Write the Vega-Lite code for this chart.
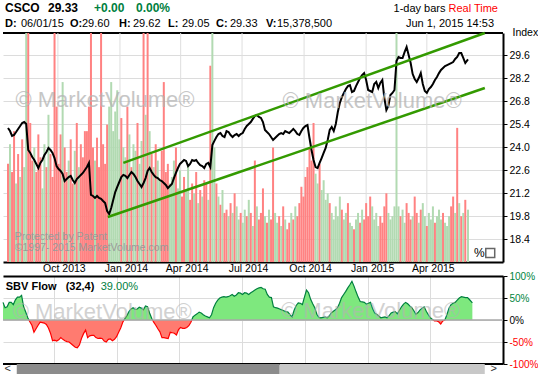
{
"$schema":"https://vega.github.io/schema/vega-lite/v6.json",
"padding":0,
"autosize":{"type":"pad"},
"background":"white",
"spacing":0,
"bounds":"flush",
"config":{"view":{"stroke":null},"font":"Liberation Sans","text":{"font":"Liberation Sans"},"axis":{"labelFont":"Liberation Sans","titleFont":"Liberation Sans","labelOverlap":false,"labelFlush":false,"labelBound":false}},
"resolve":{"scale":{"x":"independent","y":"independent","color":"independent"}},
"datasets":{"s":[
{"d":"2013-07-19","c":25.16,"v":60,"u":0,"f":40},
{"d":"2013-07-22","c":24.97,"v":72,"u":1,"f":28},
{"d":"2013-07-25","c":24.67,"v":55,"u":0,"f":30},
{"d":"2013-07-28","c":24.73,"v":80,"u":0,"f":40},
{"d":"2013-07-31","c":24.91,"v":48,"u":1,"f":40},
{"d":"2013-08-03","c":25.10,"v":66,"u":0,"f":35},
{"d":"2013-08-06","c":25.28,"v":52,"u":1,"f":46},
{"d":"2013-08-09","c":25.46,"v":75,"u":0,"f":52},
{"d":"2013-08-12","c":25.52,"v":58,"u":1,"f":52},
{"d":"2013-08-15","c":25.40,"v":160,"u":1,"f":56},
{"d":"2013-08-18","c":23.82,"v":150,"u":0,"f":30},
{"d":"2013-08-21","c":23.64,"v":85,"u":0,"f":18},
{"d":"2013-08-24","c":23.39,"v":62,"u":0,"f":5},
{"d":"2013-08-27","c":23.21,"v":70,"u":1,"f":-4},
{"d":"2013-08-30","c":22.97,"v":55,"u":0,"f":-12},
{"d":"2013-09-02","c":22.72,"v":78,"u":0,"f":-28},
{"d":"2013-09-05","c":23.03,"v":64,"u":0,"f":-20},
{"d":"2013-09-08","c":23.21,"v":45,"u":1,"f":-12},
{"d":"2013-09-11","c":23.51,"v":72,"u":1,"f":-5},
{"d":"2013-09-14","c":23.70,"v":58,"u":0,"f":-6},
{"d":"2013-09-17","c":23.94,"v":90,"u":1,"f":-7},
{"d":"2013-09-20","c":23.82,"v":66,"u":0,"f":-10},
{"d":"2013-09-23","c":23.64,"v":52,"u":0,"f":-18},
{"d":"2013-09-26","c":23.33,"v":160,"u":0,"f":-30},
{"d":"2013-09-29","c":22.84,"v":95,"u":0,"f":-47},
{"d":"2013-10-02","c":22.66,"v":60,"u":0,"f":-46},
{"d":"2013-10-05","c":22.54,"v":78,"u":0,"f":-48},
{"d":"2013-10-08","c":22.36,"v":110,"u":1,"f":-45},
{"d":"2013-10-11","c":21.93,"v":70,"u":0,"f":-40},
{"d":"2013-10-14","c":22.05,"v":55,"u":0,"f":-44},
{"d":"2013-10-17","c":22.17,"v":62,"u":1,"f":-47},
{"d":"2013-10-20","c":22.24,"v":75,"u":0,"f":-49},
{"d":"2013-10-23","c":21.99,"v":48,"u":0,"f":-50},
{"d":"2013-10-26","c":21.81,"v":68,"u":1,"f":-54},
{"d":"2013-10-29","c":22.05,"v":85,"u":0,"f":-58},
{"d":"2013-11-01","c":22.17,"v":58,"u":1,"f":-62},
{"d":"2013-11-04","c":22.30,"v":72,"u":0,"f":-63},
{"d":"2013-11-07","c":22.42,"v":64,"u":0,"f":-57},
{"d":"2013-11-10","c":22.60,"v":80,"u":0,"f":-42},
{"d":"2013-11-13","c":22.78,"v":80,"u":0,"f":-31},
{"d":"2013-11-16","c":23.03,"v":95,"u":0,"f":-23},
{"d":"2013-11-19","c":21.08,"v":160,"u":0,"f":-40},
{"d":"2013-11-22","c":21.02,"v":70,"u":0,"f":-36},
{"d":"2013-11-25","c":20.90,"v":62,"u":1,"f":-35},
{"d":"2013-11-28","c":21.02,"v":76,"u":0,"f":-35},
{"d":"2013-12-01","c":20.90,"v":58,"u":0,"f":-40},
{"d":"2013-12-04","c":20.84,"v":160,"u":0,"f":-42},
{"d":"2013-12-07","c":20.71,"v":72,"u":0,"f":-41},
{"d":"2013-12-10","c":20.59,"v":60,"u":0,"f":-42},
{"d":"2013-12-13","c":20.10,"v":84,"u":0,"f":-48},
{"d":"2013-12-16","c":19.92,"v":95,"u":1,"f":-50},
{"d":"2013-12-19","c":20.29,"v":110,"u":1,"f":-44},
{"d":"2013-12-22","c":20.77,"v":80,"u":1,"f":-43},
{"d":"2013-12-25","c":21.26,"v":92,"u":1,"f":-47},
{"d":"2013-12-28","c":21.57,"v":105,"u":1,"f":-44},
{"d":"2013-12-31","c":21.87,"v":75,"u":1,"f":-38},
{"d":"2014-01-03","c":22.17,"v":88,"u":0,"f":-28},
{"d":"2014-01-06","c":22.30,"v":70,"u":1,"f":-18},
{"d":"2014-01-09","c":22.24,"v":64,"u":1,"f":-5},
{"d":"2014-01-12","c":22.11,"v":95,"u":0,"f":3},
{"d":"2014-01-15","c":22.30,"v":78,"u":1,"f":10},
{"d":"2014-01-18","c":22.48,"v":58,"u":0,"f":19},
{"d":"2014-01-21","c":22.36,"v":72,"u":1,"f":25},
{"d":"2014-01-24","c":22.17,"v":68,"u":1,"f":28},
{"d":"2014-01-27","c":21.93,"v":85,"u":0,"f":24},
{"d":"2014-01-30","c":21.75,"v":60,"u":1,"f":25},
{"d":"2014-02-02","c":21.57,"v":74,"u":1,"f":29},
{"d":"2014-02-05","c":21.81,"v":160,"u":0,"f":27},
{"d":"2014-02-08","c":22.11,"v":90,"u":1,"f":23},
{"d":"2014-02-11","c":22.54,"v":160,"u":0,"f":32},
{"d":"2014-02-14","c":22.72,"v":80,"u":1,"f":30},
{"d":"2014-02-17","c":22.48,"v":66,"u":0,"f":16},
{"d":"2014-02-20","c":22.30,"v":58,"u":1,"f":4},
{"d":"2014-02-23","c":22.17,"v":72,"u":0,"f":-5},
{"d":"2014-02-26","c":22.11,"v":62,"u":1,"f":-12},
{"d":"2014-03-01","c":21.99,"v":50,"u":1,"f":-20},
{"d":"2014-03-04","c":21.93,"v":68,"u":0,"f":-27},
{"d":"2014-03-07","c":21.81,"v":110,"u":0,"f":-40},
{"d":"2014-03-10","c":21.69,"v":55,"u":0,"f":-40},
{"d":"2014-03-13","c":21.50,"v":60,"u":0,"f":-41},
{"d":"2014-03-16","c":21.63,"v":48,"u":1,"f":-42},
{"d":"2014-03-19","c":21.75,"v":52,"u":1,"f":-28},
{"d":"2014-03-22","c":22.11,"v":62,"u":1,"f":-29},
{"d":"2014-03-25","c":22.42,"v":70,"u":0,"f":-30},
{"d":"2014-03-28","c":22.72,"v":45,"u":1,"f":-34},
{"d":"2014-03-31","c":22.97,"v":56,"u":1,"f":-22},
{"d":"2014-04-03","c":23.09,"v":40,"u":0,"f":-17},
{"d":"2014-04-06","c":23.21,"v":52,"u":0,"f":-19},
{"d":"2014-04-09","c":23.15,"v":44,"u":1,"f":-19},
{"d":"2014-04-12","c":22.84,"v":60,"u":1,"f":-17},
{"d":"2014-04-15","c":22.97,"v":38,"u":0,"f":-13},
{"d":"2014-04-18","c":23.21,"v":48,"u":0,"f":-5},
{"d":"2014-04-21","c":23.15,"v":42,"u":1,"f":7},
{"d":"2014-04-24","c":23.21,"v":55,"u":0,"f":11},
{"d":"2014-04-27","c":23.03,"v":36,"u":1,"f":14},
{"d":"2014-04-30","c":22.90,"v":44,"u":0,"f":18},
{"d":"2014-05-03","c":22.84,"v":40,"u":1,"f":16},
{"d":"2014-05-06","c":22.72,"v":50,"u":0,"f":12},
{"d":"2014-05-09","c":22.97,"v":48,"u":0,"f":9},
{"d":"2014-05-12","c":23.03,"v":38,"u":1,"f":7},
{"d":"2014-05-15","c":22.78,"v":120,"u":0,"f":5},
{"d":"2014-05-18","c":24.12,"v":160,"u":1,"f":12},
{"d":"2014-05-21","c":24.37,"v":70,"u":1,"f":28},
{"d":"2014-05-24","c":24.61,"v":48,"u":0,"f":38},
{"d":"2014-05-27","c":24.79,"v":40,"u":1,"f":45},
{"d":"2014-05-30","c":24.85,"v":35,"u":0,"f":50},
{"d":"2014-06-02","c":24.67,"v":44,"u":1,"f":52},
{"d":"2014-06-05","c":24.61,"v":30,"u":0,"f":53},
{"d":"2014-06-08","c":24.97,"v":32,"u":0,"f":52},
{"d":"2014-06-11","c":24.91,"v":28,"u":1,"f":53},
{"d":"2014-06-14","c":24.73,"v":36,"u":0,"f":55},
{"d":"2014-06-17","c":24.61,"v":30,"u":1,"f":58},
{"d":"2014-06-20","c":24.73,"v":42,"u":0,"f":54},
{"d":"2014-06-23","c":24.79,"v":34,"u":1,"f":57},
{"d":"2014-06-26","c":24.67,"v":26,"u":1,"f":62},
{"d":"2014-06-29","c":24.79,"v":30,"u":0,"f":61},
{"d":"2014-07-02","c":24.85,"v":24,"u":1,"f":58},
{"d":"2014-07-05","c":25.10,"v":32,"u":1,"f":62},
{"d":"2014-07-08","c":25.28,"v":28,"u":0,"f":61},
{"d":"2014-07-11","c":25.40,"v":38,"u":1,"f":58},
{"d":"2014-07-14","c":25.52,"v":30,"u":0,"f":62},
{"d":"2014-07-17","c":25.71,"v":22,"u":1,"f":65},
{"d":"2014-07-20","c":25.89,"v":62,"u":0,"f":68},
{"d":"2014-07-23","c":25.95,"v":34,"u":1,"f":71},
{"d":"2014-07-26","c":25.83,"v":26,"u":0,"f":73},
{"d":"2014-07-29","c":25.77,"v":30,"u":0,"f":74},
{"d":"2014-08-01","c":25.52,"v":45,"u":0,"f":71},
{"d":"2014-08-04","c":25.04,"v":28,"u":1,"f":70},
{"d":"2014-08-07","c":24.91,"v":24,"u":0,"f":58},
{"d":"2014-08-10","c":24.79,"v":32,"u":1,"f":52},
{"d":"2014-08-13","c":24.61,"v":26,"u":0,"f":51},
{"d":"2014-08-16","c":24.43,"v":70,"u":0,"f":30},
{"d":"2014-08-19","c":24.55,"v":30,"u":1,"f":28},
{"d":"2014-08-22","c":24.67,"v":24,"u":1,"f":27},
{"d":"2014-08-25","c":24.79,"v":28,"u":0,"f":25},
{"d":"2014-08-28","c":24.85,"v":22,"u":1,"f":23},
{"d":"2014-08-31","c":24.79,"v":34,"u":0,"f":21},
{"d":"2014-09-03","c":24.97,"v":26,"u":1,"f":19},
{"d":"2014-09-06","c":24.91,"v":20,"u":0,"f":18},
{"d":"2014-09-09","c":24.85,"v":24,"u":0,"f":12},
{"d":"2014-09-12","c":24.97,"v":30,"u":1,"f":7},
{"d":"2014-09-15","c":25.10,"v":26,"u":0,"f":22},
{"d":"2014-09-18","c":24.97,"v":34,"u":1,"f":33},
{"d":"2014-09-21","c":24.79,"v":28,"u":0,"f":39},
{"d":"2014-09-24","c":24.73,"v":36,"u":0,"f":38},
{"d":"2014-09-27","c":24.97,"v":46,"u":0,"f":35},
{"d":"2014-09-30","c":25.16,"v":40,"u":0,"f":52},
{"d":"2014-10-03","c":25.28,"v":52,"u":0,"f":68},
{"d":"2014-10-06","c":25.34,"v":58,"u":0,"f":62},
{"d":"2014-10-09","c":24.55,"v":70,"u":0,"f":47},
{"d":"2014-10-12","c":23.82,"v":62,"u":0,"f":37},
{"d":"2014-10-15","c":23.21,"v":85,"u":0,"f":28},
{"d":"2014-10-18","c":22.78,"v":54,"u":1,"f":13},
{"d":"2014-10-21","c":22.72,"v":48,"u":1,"f":6},
{"d":"2014-10-24","c":23.03,"v":60,"u":0,"f":5},
{"d":"2014-10-27","c":23.33,"v":44,"u":1,"f":6},
{"d":"2014-10-30","c":23.64,"v":50,"u":1,"f":7},
{"d":"2014-11-02","c":23.94,"v":38,"u":1,"f":5},
{"d":"2014-11-05","c":24.43,"v":42,"u":1,"f":9},
{"d":"2014-11-08","c":25.04,"v":36,"u":0,"f":16},
{"d":"2014-11-11","c":25.22,"v":30,"u":1,"f":20},
{"d":"2014-11-14","c":24.97,"v":26,"u":1,"f":23},
{"d":"2014-11-17","c":25.40,"v":34,"u":1,"f":28},
{"d":"2014-11-20","c":26.13,"v":28,"u":1,"f":38},
{"d":"2014-11-23","c":26.68,"v":40,"u":1,"f":51},
{"d":"2014-11-26","c":27.04,"v":32,"u":0,"f":58},
{"d":"2014-11-29","c":27.29,"v":26,"u":1,"f":65},
{"d":"2014-12-02","c":27.53,"v":30,"u":1,"f":73},
{"d":"2014-12-05","c":27.71,"v":36,"u":0,"f":80},
{"d":"2014-12-08","c":27.77,"v":24,"u":1,"f":88},
{"d":"2014-12-11","c":27.35,"v":22,"u":1,"f":77},
{"d":"2014-12-14","c":27.41,"v":20,"u":0,"f":64},
{"d":"2014-12-17","c":27.71,"v":26,"u":1,"f":52},
{"d":"2014-12-20","c":27.96,"v":30,"u":1,"f":42},
{"d":"2014-12-23","c":28.20,"v":24,"u":0,"f":41},
{"d":"2014-12-26","c":28.38,"v":32,"u":1,"f":40},
{"d":"2014-12-29","c":28.50,"v":26,"u":0,"f":36},
{"d":"2015-01-01","c":28.08,"v":36,"u":0,"f":38},
{"d":"2015-01-04","c":27.47,"v":28,"u":0,"f":40},
{"d":"2015-01-07","c":27.41,"v":40,"u":0,"f":26},
{"d":"2015-01-10","c":27.35,"v":34,"u":1,"f":16},
{"d":"2015-01-13","c":27.84,"v":26,"u":1,"f":13},
{"d":"2015-01-16","c":27.96,"v":30,"u":1,"f":9},
{"d":"2015-01-19","c":27.59,"v":22,"u":1,"f":5},
{"d":"2015-01-22","c":27.90,"v":28,"u":0,"f":6},
{"d":"2015-01-25","c":28.08,"v":24,"u":0,"f":7},
{"d":"2015-01-28","c":26.98,"v":34,"u":0,"f":5},
{"d":"2015-01-31","c":26.25,"v":42,"u":0,"f":10},
{"d":"2015-02-03","c":26.50,"v":30,"u":1,"f":16},
{"d":"2015-02-06","c":27.17,"v":26,"u":1,"f":18},
{"d":"2015-02-09","c":27.29,"v":28,"u":1,"f":19},
{"d":"2015-02-12","c":27.47,"v":34,"u":1,"f":14},
{"d":"2015-02-15","c":29.23,"v":160,"u":1,"f":22},
{"d":"2015-02-18","c":29.48,"v":34,"u":1,"f":30},
{"d":"2015-02-21","c":29.42,"v":28,"u":0,"f":36},
{"d":"2015-02-24","c":29.42,"v":32,"u":1,"f":40},
{"d":"2015-02-27","c":29.78,"v":24,"u":1,"f":37},
{"d":"2015-03-02","c":30.09,"v":36,"u":0,"f":32},
{"d":"2015-03-05","c":29.60,"v":30,"u":0,"f":28},
{"d":"2015-03-08","c":29.11,"v":26,"u":0,"f":21},
{"d":"2015-03-11","c":28.44,"v":28,"u":1,"f":13},
{"d":"2015-03-14","c":28.14,"v":40,"u":0,"f":17},
{"d":"2015-03-17","c":27.96,"v":30,"u":0,"f":23},
{"d":"2015-03-20","c":28.20,"v":24,"u":1,"f":27},
{"d":"2015-03-23","c":28.50,"v":32,"u":0,"f":30},
{"d":"2015-03-26","c":27.84,"v":36,"u":1,"f":20},
{"d":"2015-03-29","c":27.41,"v":28,"u":1,"f":12},
{"d":"2015-04-01","c":27.29,"v":22,"u":0,"f":5},
{"d":"2015-04-04","c":27.53,"v":30,"u":1,"f":1},
{"d":"2015-04-07","c":27.65,"v":26,"u":1,"f":-2},
{"d":"2015-04-10","c":27.84,"v":34,"u":1,"f":-2},
{"d":"2015-04-13","c":28.08,"v":24,"u":0,"f":-4},
{"d":"2015-04-16","c":28.26,"v":28,"u":1,"f":-9},
{"d":"2015-04-19","c":28.50,"v":32,"u":1,"f":-2},
{"d":"2015-04-22","c":28.69,"v":26,"u":1,"f":0},
{"d":"2015-04-25","c":28.81,"v":30,"u":0,"f":12},
{"d":"2015-04-28","c":28.93,"v":24,"u":1,"f":27},
{"d":"2015-05-01","c":28.99,"v":22,"u":1,"f":35},
{"d":"2015-05-04","c":29.05,"v":28,"u":1,"f":38},
{"d":"2015-05-07","c":29.11,"v":34,"u":0,"f":40},
{"d":"2015-05-10","c":29.17,"v":40,"u":0,"f":45},
{"d":"2015-05-13","c":29.36,"v":30,"u":1,"f":50},
{"d":"2015-05-16","c":29.48,"v":82,"u":0,"f":53},
{"d":"2015-05-19","c":29.72,"v":36,"u":1,"f":52},
{"d":"2015-05-22","c":29.72,"v":28,"u":0,"f":51},
{"d":"2015-05-25","c":29.42,"v":30,"u":1,"f":51},
{"d":"2015-05-28","c":29.11,"v":38,"u":0,"f":46},
{"d":"2015-06-01","c":29.33,"v":32,"u":1,"f":39}
]},
"vconcat":[
{"width":500,"height":33,"data":{"values":[{}]},
 "layer":[
  {"mark":{"type":"text","text":"CSCO","fontSize":12,"fontWeight":"bold","align":"left","baseline":"alphabetic","color":"#000"},"encoding":{"x":{"datum":0.4,"scale":{"domain":[0,100]},"axis":null},"y":{"datum":3.64,"scale":{"domain":[0,10],"reverse":true},"axis":null}}},
  {"mark":{"type":"text","text":"29.33","fontSize":12,"fontWeight":"bold","align":"left","baseline":"alphabetic","color":"#000"},"encoding":{"x":{"datum":9,"scale":{"domain":[0,100]},"axis":null},"y":{"datum":3.64,"scale":{"domain":[0,10],"reverse":true},"axis":null}}},
  {"mark":{"type":"text","text":"+0.00","fontSize":12,"fontWeight":"bold","align":"left","baseline":"alphabetic","color":"#008040"},"encoding":{"x":{"datum":18.2,"scale":{"domain":[0,100]},"axis":null},"y":{"datum":3.64,"scale":{"domain":[0,10],"reverse":true},"axis":null}}},
  {"mark":{"type":"text","text":"0.00%","fontSize":12,"fontWeight":"bold","align":"left","baseline":"alphabetic","color":"#008040"},"encoding":{"x":{"datum":26.6,"scale":{"domain":[0,100]},"axis":null},"y":{"datum":3.64,"scale":{"domain":[0,10],"reverse":true},"axis":null}}},
  {"mark":{"type":"text","text":"1-day bars","fontSize":11,"align":"right","baseline":"alphabetic","color":"#000"},"encoding":{"x":{"datum":88.5,"scale":{"domain":[0,100]},"axis":null},"y":{"datum":3.64,"scale":{"domain":[0,10],"reverse":true},"axis":null}}},
  {"mark":{"type":"text","text":"Real Time","fontSize":11,"align":"right","baseline":"alphabetic","color":"#ff0000"},"encoding":{"x":{"datum":99,"scale":{"domain":[0,100]},"axis":null},"y":{"datum":3.64,"scale":{"domain":[0,10],"reverse":true},"axis":null}}},
  {"mark":{"type":"text","text":"D:","fontSize":11,"fontWeight":"bold","align":"left","baseline":"alphabetic","color":"#000"},"encoding":{"x":{"datum":0.4,"scale":{"domain":[0,100]},"axis":null},"y":{"datum":8.18,"scale":{"domain":[0,10],"reverse":true},"axis":null}}},
  {"mark":{"type":"text","text":"06/01/15","fontSize":11,"align":"left","baseline":"alphabetic","color":"#000"},"encoding":{"x":{"datum":3.6,"scale":{"domain":[0,100]},"axis":null},"y":{"datum":8.18,"scale":{"domain":[0,10],"reverse":true},"axis":null}}},
  {"mark":{"type":"text","text":"O:","fontSize":11,"fontWeight":"bold","align":"left","baseline":"alphabetic","color":"#000"},"encoding":{"x":{"datum":13.4,"scale":{"domain":[0,100]},"axis":null},"y":{"datum":8.18,"scale":{"domain":[0,10],"reverse":true},"axis":null}}},
  {"mark":{"type":"text","text":"29.60","fontSize":11,"align":"left","baseline":"alphabetic","color":"#000"},"encoding":{"x":{"datum":15.8,"scale":{"domain":[0,100]},"axis":null},"y":{"datum":8.18,"scale":{"domain":[0,10],"reverse":true},"axis":null}}},
  {"mark":{"type":"text","text":"H:","fontSize":11,"fontWeight":"bold","align":"left","baseline":"alphabetic","color":"#000"},"encoding":{"x":{"datum":23.2,"scale":{"domain":[0,100]},"axis":null},"y":{"datum":8.18,"scale":{"domain":[0,10],"reverse":true},"axis":null}}},
  {"mark":{"type":"text","text":"29.62","fontSize":11,"align":"left","baseline":"alphabetic","color":"#000"},"encoding":{"x":{"datum":26,"scale":{"domain":[0,100]},"axis":null},"y":{"datum":8.18,"scale":{"domain":[0,10],"reverse":true},"axis":null}}},
  {"mark":{"type":"text","text":"L:","fontSize":11,"fontWeight":"bold","align":"left","baseline":"alphabetic","color":"#000"},"encoding":{"x":{"datum":33,"scale":{"domain":[0,100]},"axis":null},"y":{"datum":8.18,"scale":{"domain":[0,10],"reverse":true},"axis":null}}},
  {"mark":{"type":"text","text":"29.05","fontSize":11,"align":"left","baseline":"alphabetic","color":"#000"},"encoding":{"x":{"datum":35.8,"scale":{"domain":[0,100]},"axis":null},"y":{"datum":8.18,"scale":{"domain":[0,10],"reverse":true},"axis":null}}},
  {"mark":{"type":"text","text":"C:","fontSize":11,"fontWeight":"bold","align":"left","baseline":"alphabetic","color":"#000"},"encoding":{"x":{"datum":42.6,"scale":{"domain":[0,100]},"axis":null},"y":{"datum":8.18,"scale":{"domain":[0,10],"reverse":true},"axis":null}}},
  {"mark":{"type":"text","text":"29.33","fontSize":11,"align":"left","baseline":"alphabetic","color":"#000"},"encoding":{"x":{"datum":45.4,"scale":{"domain":[0,100]},"axis":null},"y":{"datum":8.18,"scale":{"domain":[0,10],"reverse":true},"axis":null}}},
  {"mark":{"type":"text","text":"V:","fontSize":11,"fontWeight":"bold","align":"left","baseline":"alphabetic","color":"#000"},"encoding":{"x":{"datum":52.6,"scale":{"domain":[0,100]},"axis":null},"y":{"datum":8.18,"scale":{"domain":[0,10],"reverse":true},"axis":null}}},
  {"mark":{"type":"text","text":"15,378,500","fontSize":11,"align":"left","baseline":"alphabetic","color":"#000"},"encoding":{"x":{"datum":54.8,"scale":{"domain":[0,100]},"axis":null},"y":{"datum":8.18,"scale":{"domain":[0,10],"reverse":true},"axis":null}}},
  {"mark":{"type":"text","text":"Jun 1, 2015 14:53","fontSize":11,"align":"right","baseline":"alphabetic","color":"#000"},"encoding":{"x":{"datum":98.2,"scale":{"domain":[0,100]},"axis":null},"y":{"datum":8.18,"scale":{"domain":[0,10],"reverse":true},"axis":null}}},
  {"mark":{"type":"rule","color":"#000","strokeWidth":2},"encoding":{"y":{"datum":10,"scale":{"domain":[0,10],"reverse":true},"axis":null}}}
 ]},
{"width":500,"height":243,
 "resolve":{"scale":{"y":"independent"},"axis":{"y":"independent"}},
 "layer":[
  {"data":{"values":[{"q":"2013-10-01"},{"q":"2014-01-01"},{"q":"2014-04-01"},{"q":"2014-07-01"},{"q":"2014-10-01"},{"q":"2015-01-01"},{"q":"2015-04-01"}]},
   "mark":{"type":"rule","color":"#dedede","strokeWidth":1},
   "encoding":{
    "x":{"field":"q","type":"temporal","scale":{"type":"utc","domain":[{"year":2013,"month":7,"date":19,"utc":true},{"year":2015,"month":7,"date":15,"hours":12,"utc":true}]},
         "axis":{"orient":"bottom","offset":-14,"tickCount":30,"values":[{"year":2013,"month":10,"date":1,"utc":true},{"year":2014,"month":1,"date":1,"utc":true},{"year":2014,"month":4,"date":1,"utc":true},{"year":2014,"month":7,"date":1,"utc":true},{"year":2014,"month":10,"date":1,"utc":true},{"year":2015,"month":1,"date":1,"utc":true},{"year":2015,"month":4,"date":1,"utc":true}],"format":"%b %Y","labelOffset":6,"ticks":false,"grid":false,"domainColor":"#000","domainWidth":2,"labelPadding":1,"labelFontSize":10.5,"labelColor":"#000","title":null,"labelFlush":false,"labelOverlap":false}},
    "y":{"datum":17,"scale":{"domain":[17,30.94],"range":[229,0],"nice":false,"zero":false},"axis":null},
    "y2":{"datum":30.94}}},
  {"data":{"name":"s"},
   "mark":{"type":"bar","width":2},
   "encoding":{
    "x":{"field":"d","type":"temporal"},
    "y":{"field":"v","type":"quantitative","scale":{"domain":[0,140],"range":[229,0],"clamp":true,"nice":false},"axis":null},
    "color":{"field":"u","type":"nominal","scale":{"domain":[0,1],"range":["#ff8282","#b2dab2"]},"legend":null}}},
  {"layer":[
    {"data":{"name":"s"},
     "mark":{"type":"line","color":"#000","strokeWidth":2},
     "encoding":{
      "x":{"field":"d","type":"temporal"},
      "y":{"field":"c","type":"quantitative","scale":{"domain":[17,30.94],"range":[229,0],"nice":false,"zero":false},
           "axis":{"orient":"right","tickCount":30,"values":[18.4,19.8,21.2,22.6,24,25.4,26.8,28.2,29.6],"format":".1f","grid":true,"gridColor":"#dcdcdc","tickSize":4,"tickColor":"#000","domainColor":"#000","domainWidth":2,"labelFontSize":10.5,"labelColor":"#000","labelPadding":2,"title":"Index","titleAngle":0,"titleX":9,"titleY":-1,"titleAlign":"left","titleBaseline":"middle","titleFontWeight":"normal","titleFontSize":10.5,"titleColor":"#000","labelOverlap":false,"labelFlush":false}}}},
    {"data":{"values":[{"d1":"2014-01-06","p1":23.03,"d2":"2015-06-26","p2":30.94},{"d1":"2013-12-14","p1":19.74,"d2":"2015-06-26","p2":27.59}]},
     "mark":{"type":"rule","color":"#339a00","strokeWidth":2.5},
     "encoding":{"x":{"field":"d1","type":"temporal"},"x2":{"field":"d2"},"y":{"field":"p1","type":"quantitative"},"y2":{"field":"p2"}}},
    {"data":{"values":[{}]},"mark":{"type":"text","text":"© MarketVolume®","fontSize":22,"align":"left","baseline":"alphabetic","color":"#b4b4b4","opacity":0.75},
     "encoding":{"x":{"datum":{"year":2013,"month":7,"date":30,"utc":true},"type":"temporal"},"y":{"datum":26.43,"type":"quantitative"}}},
    {"data":{"values":[{}]},"mark":{"type":"text","text":"© MarketVolume®","fontSize":22,"align":"left","baseline":"alphabetic","color":"#b4b4b4","opacity":0.75},
     "encoding":{"x":{"datum":{"year":2014,"month":8,"date":30,"utc":true},"type":"temporal"},"y":{"datum":26.37,"type":"quantitative"}}},
    {"data":{"values":[{}]},"mark":{"type":"text","text":"Protected by Patent","fontSize":10.5,"align":"left","baseline":"alphabetic","color":"#9a9a9a"},
     "encoding":{"x":{"datum":{"year":2013,"month":7,"date":29,"utc":true},"type":"temporal"},"y":{"datum":18.34,"type":"quantitative"}}},
    {"data":{"values":[{}]},"mark":{"type":"text","text":"©1997- 2015 MarketVolume.com","fontSize":10.5,"align":"left","baseline":"alphabetic","color":"#9a9a9a"},
     "encoding":{"x":{"datum":{"year":2013,"month":7,"date":29,"utc":true},"type":"temporal"},"y":{"datum":17.67,"type":"quantitative"}}},
    {"data":{"values":[{}]},"mark":{"type":"text","text":"%","fontSize":12,"align":"left","baseline":"alphabetic","color":"#000"},
     "encoding":{"x":{"datum":{"year":2015,"month":6,"date":10,"utc":true},"type":"temporal"},"y":{"datum":17.3,"type":"quantitative"}}},
    {"data":{"values":[{}]},"mark":{"type":"point","shape":"square","size":80,"filled":false,"stroke":"#666","strokeWidth":1.5,"opacity":1},
     "encoding":{"x":{"datum":{"year":2015,"month":7,"date":4,"utc":true},"type":"temporal"},"y":{"datum":17.55,"type":"quantitative"}}}
  ]}
 ]},
{"width":500,"height":88,
 "layer":[
  {"data":{"name":"s"},
   "mark":{"type":"area","opacity":1,"fillOpacity":1,"fill":{"gradient":"linear","x1":0,"y1":0,"x2":0,"y2":1,"stops":[{"offset":0,"color":"#7ee87e"},{"offset":0.5828,"color":"#7ee87e"},{"offset":0.5828,"color":"#ff7b70"},{"offset":1,"color":"#ff7b70"}]}},
   "encoding":{
    "x":{"field":"d","type":"temporal","scale":{"type":"utc","domain":[{"year":2013,"month":7,"date":19,"utc":true},{"year":2015,"month":7,"date":15,"hours":12,"utc":true}]},
         "axis":{"orient":"top","tickCount":30,"values":[{"year":2013,"month":10,"date":1,"utc":true},{"year":2014,"month":1,"date":1,"utc":true},{"year":2014,"month":4,"date":1,"utc":true},{"year":2014,"month":7,"date":1,"utc":true},{"year":2014,"month":10,"date":1,"utc":true},{"year":2015,"month":1,"date":1,"utc":true},{"year":2015,"month":4,"date":1,"utc":true}],"labels":false,"ticks":false,"grid":true,"gridColor":"#dcdcdc","domainColor":"#000","domainWidth":2,"title":null}},
    "y":{"field":"f","type":"quantitative","scale":{"domain":[-100,100],"nice":false},
         "axis":{"orient":"right","tickCount":30,"values":[-100,-50,0,50,100],"labelExpr":"datum.value + '%'","grid":true,"gridColor":"#dcdcdc","tickSize":4,"tickColor":"#000","domainColor":"#000","domainWidth":2,"labelFontSize":10,"labelPadding":2,"title":null,"labelOverlap":false,"labelFlush":false,
                 "labelColor":{"condition":[{"test":"datum.value < 0","value":"#ff0000"},{"test":"datum.value == 0","value":"#000000"}],"value":"#00843c"}}},
    "y2":{"datum":0}}},
  {"data":{"name":"s"},
   "mark":{"type":"line","strokeWidth":1.2,"stroke":{"gradient":"linear","x1":0,"y1":0,"x2":0,"y2":1,"stops":[{"offset":0,"color":"#00803f"},{"offset":0.5828,"color":"#00803f"},{"offset":0.5828,"color":"#ff0000"},{"offset":1,"color":"#ff0000"}]}},
   "encoding":{"x":{"field":"d","type":"temporal"},"y":{"field":"f","type":"quantitative"}}},
  {"data":{"values":[{}]},"mark":{"type":"rule","color":"#a8a8a8","strokeWidth":1.5},"encoding":{"y":{"datum":0}}},
  {"data":{"values":[{}]},"mark":{"type":"rule","color":"#000","strokeWidth":2},"encoding":{"y":{"datum":-100}}},
  {"data":{"values":[{}]},"mark":{"type":"text","text":"© MarketVolume®","fontSize":22,"align":"left","baseline":"alphabetic","color":"#b4b4b4","opacity":0.6},
   "encoding":{"x":{"datum":{"year":2013,"month":8,"date":2,"utc":true},"type":"temporal"},"y":{"datum":2,"type":"quantitative"}}},
  {"data":{"values":[{}]},"mark":{"type":"text","text":"© MarketVolume®","fontSize":22,"align":"left","baseline":"alphabetic","color":"#b4b4b4","opacity":0.6},
   "encoding":{"x":{"datum":{"year":2014,"month":8,"date":27,"utc":true},"type":"temporal"},"y":{"datum":4.5,"type":"quantitative"}}},
  {"data":{"values":[{}]},"mark":{"type":"text","text":"SBV Flow","fontSize":11,"fontWeight":"bold","align":"left","baseline":"alphabetic","color":"#000"},
   "encoding":{"x":{"datum":{"year":2013,"month":7,"date":23,"utc":true},"type":"temporal"},"y":{"datum":68,"type":"quantitative"}}},
  {"data":{"values":[{}]},"mark":{"type":"text","text":"(32,4)","fontSize":11,"fontWeight":"bold","align":"left","baseline":"alphabetic","color":"#000"},
   "encoding":{"x":{"datum":{"year":2013,"month":10,"date":18,"utc":true},"type":"temporal"},"y":{"datum":68,"type":"quantitative"}}},
  {"data":{"values":[{}]},"mark":{"type":"text","text":"39.00%","fontSize":11,"align":"left","baseline":"alphabetic","color":"#008040"},
   "encoding":{"x":{"datum":{"year":2013,"month":12,"date":8,"utc":true},"type":"temporal"},"y":{"datum":68,"type":"quantitative"}}}
 ]},
{"width":500,"height":10,"data":{"values":[{}]},
 "layer":[
  {"mark":{"type":"rect","color":"#8c8c8c"},"encoding":{"x":{"datum":{"year":2013,"month":8,"date":8,"utc":true},"type":"temporal","scale":{"type":"utc","domain":[{"year":2013,"month":7,"date":19,"utc":true},{"year":2015,"month":7,"date":15,"hours":12,"utc":true}]},"axis":null},"x2":{"datum":{"year":2014,"month":8,"date":25,"utc":true}}}},
  {"mark":{"type":"rect","color":"#c8c8c8"},"encoding":{"x":{"datum":{"year":2014,"month":8,"date":25,"utc":true},"type":"temporal"},"x2":{"datum":{"year":2015,"month":6,"date":19,"utc":true}}}},
  {"mark":{"type":"text","text":"<","fontSize":11,"color":"#333"},"encoding":{"x":{"datum":{"year":2013,"month":7,"date":26,"utc":true},"type":"temporal"}}},
  {"mark":{"type":"text","text":">","fontSize":11,"color":"#333"},"encoding":{"x":{"datum":{"year":2015,"month":7,"date":2,"utc":true},"type":"temporal"}}}
 ]}
]
}
